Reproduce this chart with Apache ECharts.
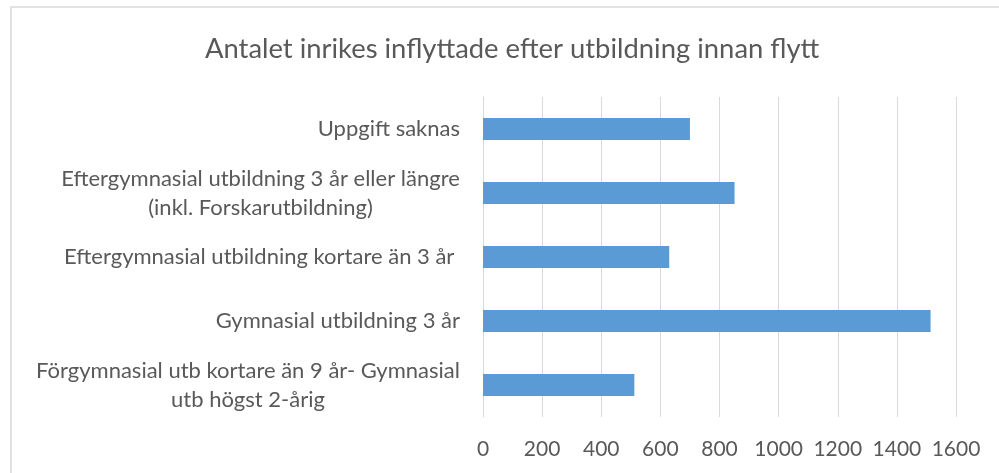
<!DOCTYPE html>
<html>
<head>
<meta charset="utf-8">
<script src="https://cdn.jsdelivr.net/npm/echarts@6/dist/echarts.min.js"></script>
<style>
html,body{margin:0;padding:0;background:#fff;}
#chart{width:999px;height:473px;}
</style>
</head>
<body>
<div id="chart"></div>
<script>
const titleText = 'Antalet inrikes inflyttade efter utbildning innan flytt';
const categories = [
  'Förgymnasial utb kortare än 9 år- Gymnasial\nutb högst 2-årig',
  'Gymnasial utbildning 3 år',
  'Eftergymnasial utbildning kortare än 3 år ',
  'Eftergymnasial utbildning 3 år eller längre\n(inkl. Forskarutbildning)',
  'Uppgift saknas'
];
const values = [512, 1514, 630, 851, 700];
const xTicks = { min: 0, max: 1600, interval: 200 };

const labelFont = 'Lato';
const labelSize = 22;
const labelColor = '#595959';

// measure text for centering wrapped label lines inside their block
const cv = document.createElement('canvas').getContext('2d');
cv.font = labelSize + 'px ' + labelFont;
const rich = {};
categories.forEach((c, i) => {
  const lines = c.split('\n');
  if (lines.length > 1) {
    const w = Math.max(...lines.map(l => cv.measureText(l).width));
    rich['c' + i] = { width: Math.ceil(w), align: 'center', fontFamily: labelFont, fontSize: labelSize, color: labelColor, lineHeight: 29 };
  }
});

const chart = echarts.init(document.getElementById('chart'), null, { renderer: 'canvas' });
chart.setOption({
  backgroundColor: '#ffffff',
  animation: false,
  title: {
    text: titleText,
    left: 200,
    top: 31,
    textStyle: { fontFamily: 'Lato', fontWeight: 400, fontSize: 27.4, color: '#595959' }
  },
  graphic: [{
    type: 'rect',
    shape: { x: 11, y: 7, width: 1000, height: 480 },
    style: { fill: 'none', stroke: '#d9d9d9', lineWidth: 1.5 },
    silent: true
  }],
  grid: { left: 483, right: 43, top: 97, bottom: 56, containLabel: false },
  xAxis: {
    type: 'value',
    min: xTicks.min,
    max: xTicks.max,
    interval: xTicks.interval,
    axisLine: { show: false },
    axisTick: { show: false },
    splitLine: { show: true, lineStyle: { color: '#d9d9d9', width: 1 } },
    axisLabel: {
      fontFamily: labelFont, fontSize: 21, color: labelColor, margin: 22,
      formatter: function (v) { return String(v); }
    }
  },
  yAxis: {
    type: 'category',
    data: categories,
    axisLine: { show: true, lineStyle: { color: '#d9d9d9', width: 1 } },
    axisTick: { show: false },
    axisLabel: {
      fontFamily: labelFont,
      fontSize: labelSize,
      color: labelColor,
      margin: 23,
      lineHeight: 29,
      rich: rich,
      formatter: function (v, i) {
        const lines = v.split('\n');
        if (lines.length > 1) {
          return lines.map(l => '{c' + i + '|' + l + '}').join('\n');
        }
        return v;
      }
    }
  },
  series: [{
    type: 'bar',
    data: values,
    barWidth: 22,
    itemStyle: { color: '#5b9bd5' }
  }]
});
</script>
</body>
</html>
